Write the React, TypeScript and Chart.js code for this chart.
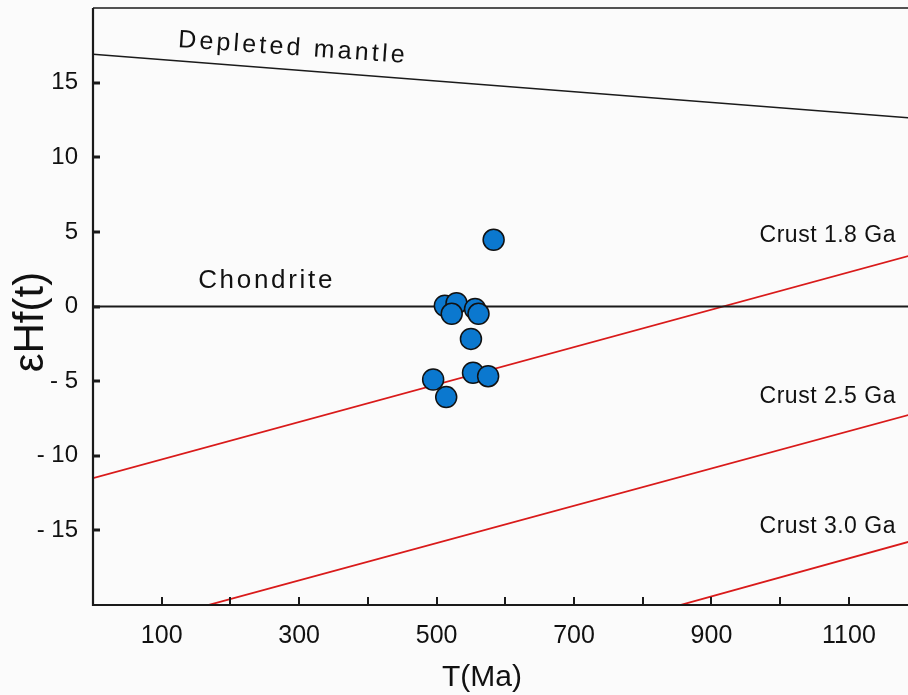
import React, { useEffect, useRef } from "react";
import { Chart, registerables } from "chart.js";

Chart.register(...registerables);

// Sample data: T (Ma) and εHf(t)
const sampleAges = [583, 512, 529, 522, 556, 561, 550, 553, 575, 495, 514];
const sampleEHf = [4.47, 0.05, 0.22, -0.49, -0.16, -0.49, -2.17, -4.44, -4.67, -4.89, -6.07];

// Reference lines (T, εHf) endpoints
const lineAges = [0, 1200];
const depletedMantle = [16.9, 12.6];
const chondrite = [0, 0];
const crust18 = [-11.5, 3.55];
const crust25 = [-22.1, -7.1];
const crust30 = [-30.9, -15.6];

const xTickLabels = [100, 300, 500, 700, 900, 1100];
const yTickLabels = [-15, -10, -5, 0, 5, 10, 15];

const SANS = '"Liberation Sans", Arial, sans-serif';

const mkLine = (vals: number[], color: string, width: number) => ({
  type: "line" as const,
  data: lineAges.map((x, i) => ({ x, y: vals[i] })),
  borderColor: color,
  borderWidth: width,
  pointRadius: 0,
  showLine: true,
  fill: false,
  order: 2,
});

const zeroPad = (s: any) => {
  s.paddingTop = 0;
  s.paddingBottom = 0;
  s.paddingLeft = 0;
  s.paddingRight = 0;
};

const framePlugin = {
  id: "frame",
  beforeDraw(chart: any) {
    const { ctx, width, height } = chart;
    ctx.save();
    ctx.fillStyle = "#fbfbfb";
    ctx.fillRect(0, 0, width, height);
    ctx.restore();
  },
  afterDraw(chart: any) {
    const { ctx, chartArea: a, scales } = chart;
    const xs = scales.x;
    const ys = scales.y;
    ctx.save();
    ctx.strokeStyle = "#1a1a1a";
    // frame
    ctx.lineWidth = 2.2;
    ctx.beginPath();
    ctx.moveTo(a.left, a.top);
    ctx.lineTo(a.left, a.bottom);
    ctx.lineTo(a.right, a.bottom);
    ctx.stroke();
    ctx.lineWidth = 1.4;
    ctx.beginPath();
    ctx.moveTo(a.left, a.top);
    ctx.lineTo(a.right, a.top);
    ctx.stroke();
    // inward ticks
    ctx.lineWidth = 2;
    for (let v = 100; v <= 1100; v += 100) {
      const px = Math.round(xs.getPixelForValue(v));
      ctx.beginPath();
      ctx.moveTo(px, a.bottom);
      ctx.lineTo(px, a.bottom - 8);
      ctx.stroke();
    }
    ctx.lineWidth = 3;
    for (const v of yTickLabels) {
      const py = Math.round(ys.getPixelForValue(v));
      ctx.beginPath();
      ctx.moveTo(a.left, py);
      ctx.lineTo(a.left + 7, py);
      ctx.stroke();
    }
    // annotations
    ctx.fillStyle = "#111";
    ctx.textBaseline = "middle";
    ctx.save();
    ctx.translate(xs.getPixelForValue(124), ys.getPixelForValue(17.85));
    ctx.rotate((4 * Math.PI) / 180);
    ctx.font = `25px ${SANS}`;
    (ctx as any).letterSpacing = "3.2px";
    ctx.textAlign = "left";
    ctx.fillText("Depleted mantle", 0, 0);
    ctx.restore();

    ctx.save();
    ctx.font = `26px ${SANS}`;
    (ctx as any).letterSpacing = "2.7px";
    ctx.textAlign = "left";
    ctx.fillText("Chondrite", xs.getPixelForValue(153), ys.getPixelForValue(1.75));
    ctx.restore();

    ctx.save();
    ctx.font = `23px ${SANS}`;
    (ctx as any).letterSpacing = "0.5px";
    ctx.textAlign = "left";
    const lx = xs.getPixelForValue(970);
    ctx.fillText("Crust 1.8 Ga", lx, ys.getPixelForValue(4.75));
    ctx.fillText("Crust 2.5 Ga", lx, ys.getPixelForValue(-6.05));
    ctx.fillText("Crust 3.0 Ga", lx, ys.getPixelForValue(-14.75));
    ctx.restore();

    // axis titles
    ctx.save();
    ctx.textBaseline = "alphabetic";
    ctx.font = `30px ${SANS}`;
    ctx.textAlign = "center";
    ctx.fillText("T(Ma)", 482, 686);
    ctx.restore();

    ctx.save();
    ctx.textBaseline = "alphabetic";
    ctx.translate(43, 322);
    ctx.rotate(-Math.PI / 2);
    ctx.font = `42px ${SANS}`;
    ctx.textAlign = "center";
    ctx.fillText("εHf(t)", 0, 0);
    ctx.restore();

    ctx.restore();
  },
};

export default function App() {
  const ref = useRef<HTMLCanvasElement | null>(null);
  useEffect(() => {
    if (!ref.current) return;
    const chart = new Chart(ref.current, {
      type: "scatter",
      data: {
        datasets: [
          mkLine(depletedMantle, "#1a1a1a", 1.5),
          mkLine(chondrite, "#1a1a1a", 1.8),
          mkLine(crust18, "#d91a1a", 1.8),
          mkLine(crust25, "#d91a1a", 1.8),
          mkLine(crust30, "#d91a1a", 1.8),
          {
            type: "scatter" as const,
            data: sampleAges.map((x, i) => ({ x, y: sampleEHf[i] })),
            backgroundColor: "#0b78cf",
            borderColor: "#111",
            borderWidth: 1.5,
            pointRadius: 10.5,
            order: 1,
          },
        ] as any,
      },
      options: {
        animation: false,
        responsive: false,
        maintainAspectRatio: false,
        layout: { autoPadding: false, padding: { left: 0, right: 0, top: 8, bottom: 0 } },
        plugins: { legend: { display: false }, tooltip: { enabled: false } },
        scales: {
          x: {
            type: "linear",
            min: 0,
            max: 1186,
            grid: { display: false },
            border: { display: false },
            ticks: {
              stepSize: 100,
              includeBounds: false,
              autoSkip: false,
              maxRotation: 0,
              padding: 8,
              color: "#111",
              font: { family: SANS, size: 25 },
              callback: (v: any) => (xTickLabels.includes(Number(v)) ? String(v) : ""),
            },
            afterFit: (s: any) => {
              s.height = 90;
              zeroPad(s);
            },
          },
          y: {
            type: "linear",
            min: -20,
            max: 20,
            grid: { display: false },
            border: { display: false },
            ticks: {
              stepSize: 5,
              autoSkip: false,
              padding: 7,
              color: "#111",
              font: { family: SANS, size: 24 },
              callback: (v: any) => {
                const n = Number(v);
                if (!yTickLabels.includes(n)) return "";
                return n < 0 ? "- " + Math.abs(n) : String(n);
              },
            },
            afterFit: (s: any) => {
              s.width = 93;
              zeroPad(s);
            },
          },
        },
      },
      plugins: [framePlugin],
    });
    return () => chart.destroy();
  }, []);
  return (
    <div style={{ position: "absolute", left: 0, top: 0, width: 908, height: 695 }}>
      <canvas ref={ref} width={908} height={695} style={{ display: "block" }} />
    </div>
  );
}
